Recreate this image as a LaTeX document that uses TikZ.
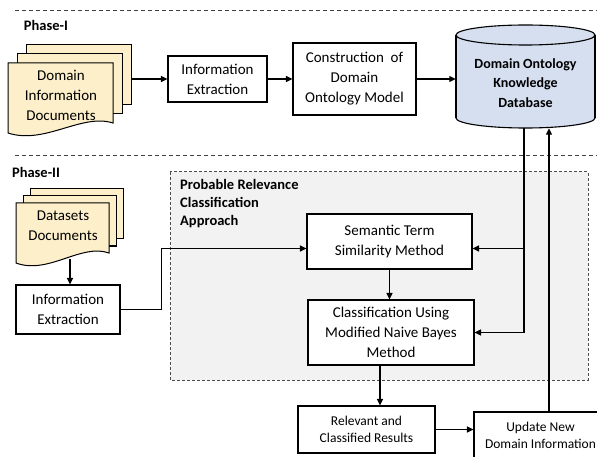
\documentclass[tikz,border=0pt]{standalone}
\usepackage{fontspec}
\setmainfont{Carlito}
\usetikzlibrary{arrows.meta}
\definecolor{docyellow}{HTML}{FCEFC9}
\definecolor{dbblue}{HTML}{D6DFF0}
\definecolor{panelgray}{HTML}{F2F2F2}

% stack of three pages: left, top, width, right edge height, offset of back pages
\newcommand{\docstack}[5]{%
  \filldraw[docpage] (#1+2*#5,#2-2*#5) rectangle (#1+#3+2*#5,#2+#4-2*#5);
  \filldraw[docpage] (#1+#5,#2-#5) rectangle (#1+#3+#5,#2+#4-#5);
  \filldraw[docpage] (#1,#2) -- (#1+#3,#2) -- (#1+#3,#2+#4)
    .. controls (#1+0.7*#3,#2+#4-10) and (#1+0.35*#3,#2+#4+22) .. (#1,#2+#4+10) -- cycle;
}

\begin{document}
\begin{tikzpicture}[x=1pt,y=-1pt,
    box/.style={draw,line width=1.1pt,fill=white,align=center,inner sep=0pt,font=\fontsize{15}{20}\selectfont},
    smallbox/.style={box,font=\fontsize{13.5}{17}\selectfont},
    doctext/.style={align=center,inner sep=0pt,font=\fontsize{15}{20}\selectfont},
    docpage/.style={line width=1pt,fill=docyellow},
    arr/.style={line width=1.1pt,-{Triangle[length=6.5pt,width=6pt]}},
    sep/.style={line width=0.9pt,dash pattern=on 4pt off 3pt,black!75},
    panel/.style={line width=1pt,dash pattern=on 3pt off 2pt,black!70,fill=panelgray},
    phasetitle/.style={font=\bfseries\fontsize{14.5}{18}\selectfont,align=left,inner sep=0pt}]
\useasboundingbox (0,0) rectangle (597,457);

% separators and titles
\draw[sep] (15,10) -- (597,10);
\draw[sep] (15,155) -- (597,155);
\node[phasetitle] (ph1) at (46,25) {Phase-I};
\node[phasetitle] (ph2) at (36,172) {Phase-II};

% Phase-I
\docstack{8}{63}{105}{60}{9}
\node[doctext] (docI) at (61,95) {Domain\\Information\\Documents};
\coordinate (docIout) at (131,79);
\node[box,minimum width=99,minimum height=46] (ie1) at (217.5,79) {Information\\Extraction};
\node[box,minimum width=123,minimum height=72] (constr) at (354.5,79) {Construction~ of\\Domain\\Ontology Model};

% database cylinder
\fill[dbblue] (456,35) rectangle (595,118);
\draw[line width=1.1pt,fill=dbblue] (525.5,118) ellipse (69.5 and 10);
\fill[dbblue] (456,35) rectangle (595,118);
\draw[line width=1.1pt] (456,35) -- (456,118) (595,35) -- (595,118);
\draw[line width=1.1pt,fill=dbblue] (525.5,35) ellipse (69.5 and 10);
\node[align=center,inner sep=0pt,minimum width=139,minimum height=90,font=\bfseries\fontsize{14}{19.5}\selectfont] (db) at (525.5,83) {Domain Ontology\\Knowledge\\Database};

\draw[arr] (docIout) -- (ie1);
\draw[arr] (ie1) -- (constr);
\draw[arr] (constr.east) -- (constr.east -| db.west);

% Phase-II
\draw[panel] (170,172) rectangle (588,380);
\node[phasetitle,anchor=north west] (pra) at (180,179) {Probable Relevance\\Classification\\Approach};

\docstack{16}{203}{93}{50}{7}
\node[doctext] (docII) at (63,226) {Datasets\\Documents};
\coordinate (docIIout) at (70,259);
\node[box,minimum width=104,minimum height=49] (ie2) at (68,309.5) {Information\\Extraction};

\node[box,minimum width=165,minimum height=55] (sem) at (389.5,241.5) {Semantic Term\\Similarity Method};
\node[box,minimum width=166,minimum height=65] (cls) at (391,332.5) {Classification Using\\Modified Naive Bayes\\Method};
\node[smallbox,minimum width=137,minimum height=47] (rel) at (366.5,429.5) {Relevant and\\Classified Results};
\node[smallbox,minimum width=133,minimum height=46] (upd) at (540.5,435) {Update New\\Domain Information};

\coordinate (semin) at ([yshift=-7pt]sem.east);
\coordinate (semwest) at ([yshift=-7pt]sem.west);
\coordinate (dbout) at ([xshift=-1.5pt]db.south);
\coordinate (dbin) at ([xshift=23.5pt]db.south);
\coordinate (clsout) at ([xshift=-11pt]cls.south);

\draw[arr] (docIIout) -- (docIIout |- ie2.north);
\draw[arr] (ie2.east) -- ++(41,0) |- (semwest);
\draw[arr] (sem.south) -- (sem.south |- cls.north);
\draw[arr] (dbout) |- (cls.east);
\draw[arr] (dbout |- semin) -- (semin);
\draw[arr] (clsout) -- (clsout |- rel.north);
\draw[arr] (rel.east) -- (rel.east -| upd.west);
\draw[arr] (upd.north -| dbin) -- (dbin);
\end{tikzpicture}
\end{document}
